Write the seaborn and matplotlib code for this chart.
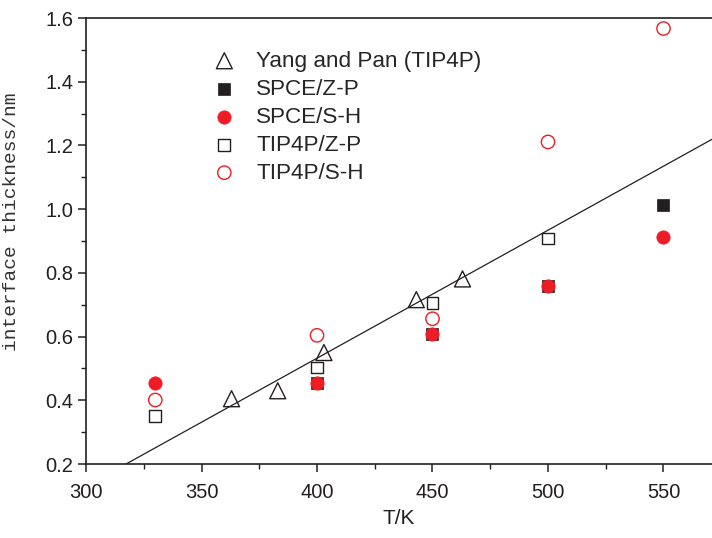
import numpy as np
import pandas as pd
import matplotlib
matplotlib.use("Agg")
import matplotlib.pyplot as plt
from matplotlib.ticker import MultipleLocator
import seaborn as sns

# Interface thickness (nm) versus temperature (K)
yang_T = [363, 383, 403, 443, 463]
yang_d = [0.405, 0.430, 0.550, 0.716, 0.781]

spce_zp_T = [400, 450, 500, 550]
spce_zp_d = [0.455, 0.607, 0.760, 1.013]

spce_sh_T = [330, 400, 450, 500, 550]
spce_sh_d = [0.455, 0.455, 0.607, 0.760, 0.912]

tip4p_zp_T = [330, 400, 450, 500]
tip4p_zp_d = [0.352, 0.503, 0.706, 0.908]

tip4p_sh_T = [330, 400, 450, 500, 550]
tip4p_sh_d = [0.401, 0.604, 0.656, 1.211, 1.567]

x_ticks = [300, 350, 400, 450, 500, 550]
y_ticks = [0.2, 0.4, 0.6, 0.8, 1.0, 1.2, 1.4, 1.6]

BLACK = "#231f20"
RED = "#ee1c25"

sns.set_style("ticks")
plt.rcParams["font.family"] = ["Liberation Sans", "DejaVu Sans"]

fig = plt.figure(figsize=(7.12, 5.38), dpi=100)
ax = fig.add_axes([0.1208, 0.1375, 0.8792, 0.829])
ax.set_xlim(300, 571)
ax.set_ylim(0.2, 1.6)

# Linear fit through the Yang and Pan points, extended over the whole axis
sns.regplot(x=np.array(yang_T), y=np.array(yang_d), scatter=False, ci=None,
            truncate=False, ax=ax,
            line_kws=dict(color=BLACK, linewidth=0.9, zorder=1))

open_kw = dict(facecolors="none", linewidths=1.0)

sns.scatterplot(x=yang_T, y=yang_d, marker="^", s=11.5 ** 2,
                edgecolors=BLACK, label="Yang and Pan (TIP4P)",
                ax=ax, zorder=3, **open_kw)
sns.scatterplot(x=tip4p_zp_T, y=tip4p_zp_d, marker="s", s=8.6 ** 2,
                edgecolors=BLACK, label="TIP4P/Z-P", ax=ax, zorder=3,
                **open_kw)
sns.scatterplot(x=spce_zp_T, y=spce_zp_d, marker="s", s=8.6 ** 2,
                color=BLACK, edgecolor=BLACK, linewidth=0.5,
                label="SPCE/Z-P", ax=ax, zorder=4)
sns.scatterplot(x=spce_sh_T, y=spce_sh_d, marker="o", s=9.6 ** 2,
                color=RED, edgecolor=RED, linewidth=0.5,
                label="SPCE/S-H", ax=ax, zorder=5)
sns.scatterplot(x=tip4p_sh_T, y=tip4p_sh_d, marker="o", s=9.6 ** 2,
                edgecolors=RED, label="TIP4P/S-H", ax=ax, zorder=5,
                **open_kw)

# Axes styling: left, bottom and top frame lines
for side in ["left", "bottom", "top"]:
    ax.spines[side].set_linewidth(1.2)
    ax.spines[side].set_color(BLACK)
ax.spines["right"].set_visible(False)

ax.set_xticks(x_ticks)
ax.set_yticks(y_ticks)
ax.set_yticklabels([f"{v:.1f}" for v in y_ticks])
ax.xaxis.set_minor_locator(MultipleLocator(25))
ax.yaxis.set_minor_locator(MultipleLocator(0.1))
ax.tick_params(which="major", direction="out", length=6, width=1.1,
               color=BLACK, labelsize=14.5, labelcolor=BLACK,
               top=False, right=False)
ax.tick_params(which="minor", direction="out", length=3.5, width=1.0,
               color=BLACK, top=False, right=False)
ax.tick_params(axis="x", which="major", pad=8)
ax.tick_params(axis="y", which="major", pad=3)

ax.set_xlabel("T/K", fontsize=15, color=BLACK, labelpad=5)
ax.set_ylabel("interface thickness/nm", fontsize=14, color="#333333",
              family=["Liberation Mono", "DejaVu Sans Mono"])
ax.yaxis.set_label_coords(-0.105, 0.543)

handles, labels = ax.get_legend_handles_labels()
order = ["Yang and Pan (TIP4P)", "SPCE/Z-P", "SPCE/S-H", "TIP4P/Z-P", "TIP4P/S-H"]
hmap = dict(zip(labels, handles))
ax.legend([hmap[k] for k in order], order, loc="upper left",
          bbox_to_anchor=(0.185, 0.947), frameon=False, fontsize=16.2,
          handletextpad=0.82, labelspacing=0.31, borderaxespad=0,
          handlelength=1.2)

fig.savefig("out.png", dpi=100)
